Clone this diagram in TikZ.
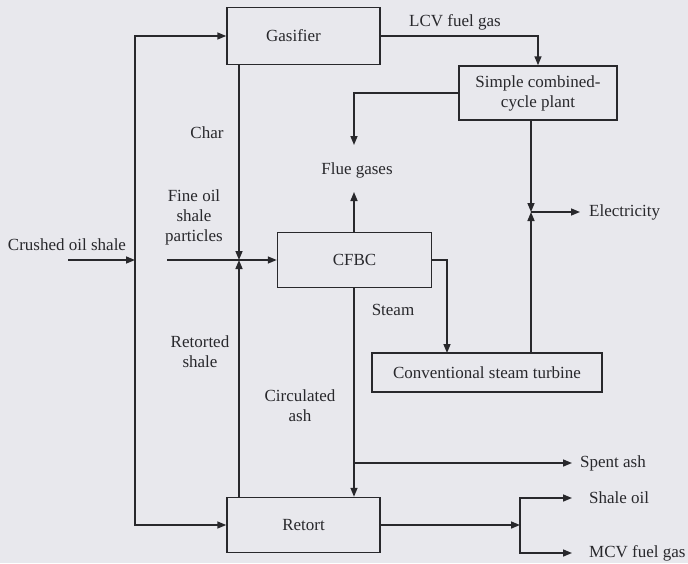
\documentclass[tikz,border=0pt]{standalone}
\usepackage{fontspec}
\setmainfont{Liberation Serif}
\usetikzlibrary{arrows.meta,calc}
\definecolor{bg}{RGB}{232,232,237}
\definecolor{ink}{RGB}{40,40,44}
\begin{document}
\begin{tikzpicture}[x=1pt,y=-1pt,
  font=\fontsize{17}{20}\selectfont,
  every node/.style={text=ink},
  box/.style={draw=ink,line width=1.5pt,inner sep=0pt,align=center,anchor=center},
  lbl/.style={inner sep=0pt,align=center},
  outl/.style={anchor=west,inner sep=0pt,inner xsep=9pt},
  ln/.style={draw=ink,line width=1.5pt},
  arr/.style={ln,-{Triangle[length=9pt,width=7pt]}}]
\fill[bg] (0,0) rectangle (688,563);
\useasboundingbox (0,0) rectangle (688,563);
% boxes
\node[box,minimum width=153pt,minimum height=57pt] (gas) at (303.5,36) {Gasifier\hspace*{20pt}};
\node[box,minimum width=158pt,minimum height=54pt] (scc) at (538,93) {Simple combined-\\cycle plant};
\node[box,minimum width=154pt,minimum height=55pt] (cfbc) at (354.5,260) {CFBC};
\node[box,minimum width=230pt,minimum height=39pt] (cst) at (487,372.5) {Conventional steam turbine};
\node[box,minimum width=153pt,minimum height=55pt] (ret) at (303.5,525) {Retort};
% labels
\node[lbl] (crl) at (67,245) {Crushed oil shale};
\node[lbl] (lcv) at (455,22) {LCV fuel gas};
\node[lbl] (char) at (207,133) {Char};
\node[lbl] (fine) at (194,217) {Fine oil\\shale\\particles};
\node[lbl] (rts) at (200,352) {Retorted\\shale};
\node[lbl] (circ) at (300,406) {Circulated\\ash};
\node[lbl] (steam) at (393,310) {Steam};
\node[lbl] (flue) at (357,170) {Flue gases};
\node[outl] (elec) at (580,212) {Electricity};
\node[outl,inner xsep=8pt] (spent) at (572,463) {Spent ash};
\node[outl,inner xsep=17pt] (oil) at (572,498) {Shale oil};
\node[outl,inner xsep=17pt] (mcv) at (572,553) {MCV fuel gas};
% coordinates
\coordinate (cs) at (68,260);
\coordinate (jl) at (135,260);
\coordinate (fs) at (167,260);
\coordinate (jc) at (239,260);
\coordinate (fgt) at (354,145);
\coordinate (fgb) at (354,192);
\coordinate (je) at (531,212);
\coordinate (sa) at (354,463);
\coordinate (jr) at (520,525);
\coordinate (stm) at (447,353);
% connectors
\draw[arr] (cs) -- (jl);
\draw[arr] (jl) |- (gas.west);
\draw[arr] (jl) |- (ret.west);
\draw[ln] (fs) -- (jc);
\draw[arr] (jc) -- (cfbc.west);
\draw[arr] (gas.south -| jc) -- (jc);
\draw[arr] (ret.north -| jc) -- (jc);
\draw[arr] (gas.east) -| (scc.north);
\draw[arr] (scc.west) -| (fgt);
\draw[arr] (cfbc.north -| fgb) -- (fgb);
\draw[arr] (cfbc.south -| sa) -- (ret.north -| sa);
\draw[arr] (scc.south -| je) -- (je);
\draw[arr] (cst.north -| je) -- (je);
\draw[arr] (je) -- (elec.west);
\draw[arr] (cfbc.east) -| (stm);
\draw[arr] (sa) -- (spent.west);
\draw[arr] (ret.east) -- (jr);
\draw[arr] (jr) |- (oil.west);
\draw[arr] (jr) |- (mcv.west);
\end{tikzpicture}
\end{document}
